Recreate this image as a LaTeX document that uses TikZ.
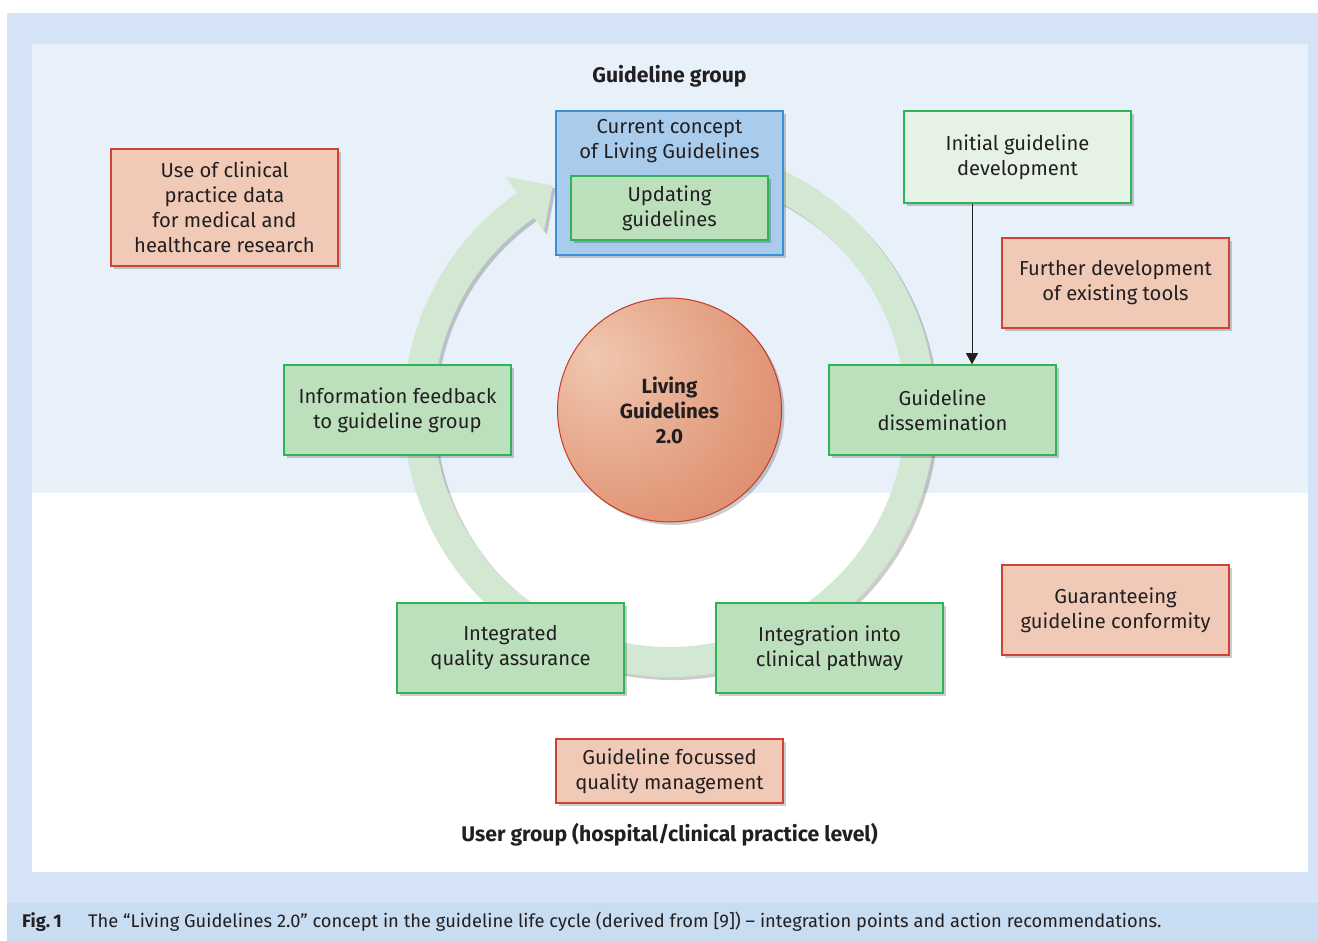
\documentclass[tikz,border=0pt]{standalone}
\usepackage{fontspec}
\setmainfont{Fira Sans}
\usetikzlibrary{shadows,arrows.meta}
\definecolor{outerc}{HTML}{D4E3F5}
\definecolor{capc}{HTML}{C8DCF2}
\definecolor{upperc}{HTML}{E8F0FA}
\definecolor{txt}{HTML}{231F20}
\definecolor{gfill}{HTML}{BCDFBC}
\definecolor{gline}{HTML}{2DB35A}
\definecolor{lgfill}{HTML}{E6F2E6}
\definecolor{bfill}{HTML}{A9CBEC}
\definecolor{bline}{HTML}{3A8FD6}
\definecolor{rfill}{HTML}{F0CAB7}
\definecolor{rline}{HTML}{CC4436}
\definecolor{ringc}{HTML}{D2E8D2}
\definecolor{ballA}{HTML}{F0C8B0}
\definecolor{ballB}{HTML}{E29A7B}
\definecolor{ballC}{HTML}{D4694B}
\definecolor{circb}{HTML}{C43A28}
\pgfdeclareradialshading{lgball}{\pgfpoint{-17bp}{12bp}}{color(0bp)=(ballA); color(30bp)=(ballB); color(68bp)=(ballC); color(90bp)=(ballC)}
\tikzset{
  shad/.style={drop shadow={shadow xshift=3pt, shadow yshift=-3pt, opacity=0.2, fill=black}},
  basebox/.style={rectangle, line width=1.5pt, inner sep=0pt, align=center, text=txt,
     font=\fontsize{20.2}{25}\selectfont, minimum width=227pt, minimum height=90pt, shad},
  gbox/.style={basebox, draw=gline, fill=gfill},
  lgbox/.style={basebox, draw=gline, fill=lgfill},
  rbox/.style={basebox, draw=rline, fill=rfill},
  bbox/.style={basebox, draw=bline, fill=bfill},
  title/.style={font=\fontsize{21.2}{25}\selectfont\bfseries, text=txt},
}
\begin{document}
\begin{tikzpicture}[x=1pt,y=1pt]
\useasboundingbox (0,0) rectangle (1318,-941);
% backgrounds
\fill[outerc] (7,-13) rectangle (1318,-941);
\fill[capc] (7,-903) rectangle (1318,-941);
\fill[white] (32,-44) rectangle (1308,-872);
\fill[upperc] (32,-44) rectangle (1308,-493);
% ring arrow
\begin{scope}[shift={(669.5,-411)}]
\fill[ringc, drop shadow={shadow xshift=3pt, shadow yshift=-3pt, opacity=0.2, fill=black}]
  (75:266) arc[start angle=75, end angle=-235, radius=266]
  -- (125:286) -- (117.4:254) -- (125:219) -- (125:236)
  arc[start angle=-235, end angle=75, radius=236] -- cycle;
\end{scope}
% centre
\node[circle, minimum size=224pt, inner sep=0pt, draw=circb, line width=1pt, shading=lgball,
  shad, align=center, text=txt, font=\fontsize{20.5}{25}\selectfont\bfseries] (lg) at (669.5,-410)
  {Living\\Guidelines\\2.0};
% boxes
\node[bbox, minimum height=144pt] (cur) at (669.5,-183) {};
\node[text=txt, font=\fontsize{20.2}{25}\selectfont, align=center, inner sep=0pt] (curtxt) at (669.5,-141.5) {Current concept\\of Living Guidelines};
\node[gbox, minimum width=197pt, minimum height=64pt, drop shadow={opacity=0}] (upd) at (669.5,-208) {Updating\\guidelines};
\node[lgbox, minimum height=92pt] (init) at (1017.5,-157) {Initial guideline\\development};
\node[rbox] (further) at (1115.5,-283) {Further development\\of existing tools};
\node[rbox, minimum height=117pt] (use) at (224.5,-207.5) {Use of clinical\\practice data\\for medical and\\healthcare research};
\node[gbox] (info) at (397.5,-410) {Information feedback\\to guideline group};
\node[gbox] (diss) at (942.5,-410) {Guideline\\dissemination};
\node[gbox] (iqa) at (510.5,-648) {Integrated\\quality assurance};
\node[gbox] (icp) at (829.5,-648) {Integration into\\clinical pathway};
\node[rbox] (guar) at (1115.5,-610) {Guaranteeing\\guideline conformity};
\node[rbox, minimum height=64pt] (gfq) at (669.5,-771) {Guideline focussed\\quality management};
% arrow
\coordinate (arrx) at (972,0);
\draw[txt, line width=1pt, -{Triangle[length=11pt,width=12pt]}] (init.south -| arrx) -- (diss.north -| arrx);
% titles
\node[title] (gg) at (669.5,-76) {Guideline group};
\node[title] (ug) at (669.5,-835) {User group (hospital/clinical practice level)};
% caption
\node[anchor=west, inner sep=0pt, text=txt, font=\fontsize{18.3}{20}\selectfont\bfseries] (fig) at (22,-922) {Fig.\,1};
\node[anchor=west, inner sep=0pt, text=txt, font=\fontsize{18.3}{20}\selectfont] (cap) at (88,-922) {The “Living Guidelines 2.0” concept in the guideline life cycle (derived from [9]) – integration points and action recommendations.};
\end{tikzpicture}
\end{document}
